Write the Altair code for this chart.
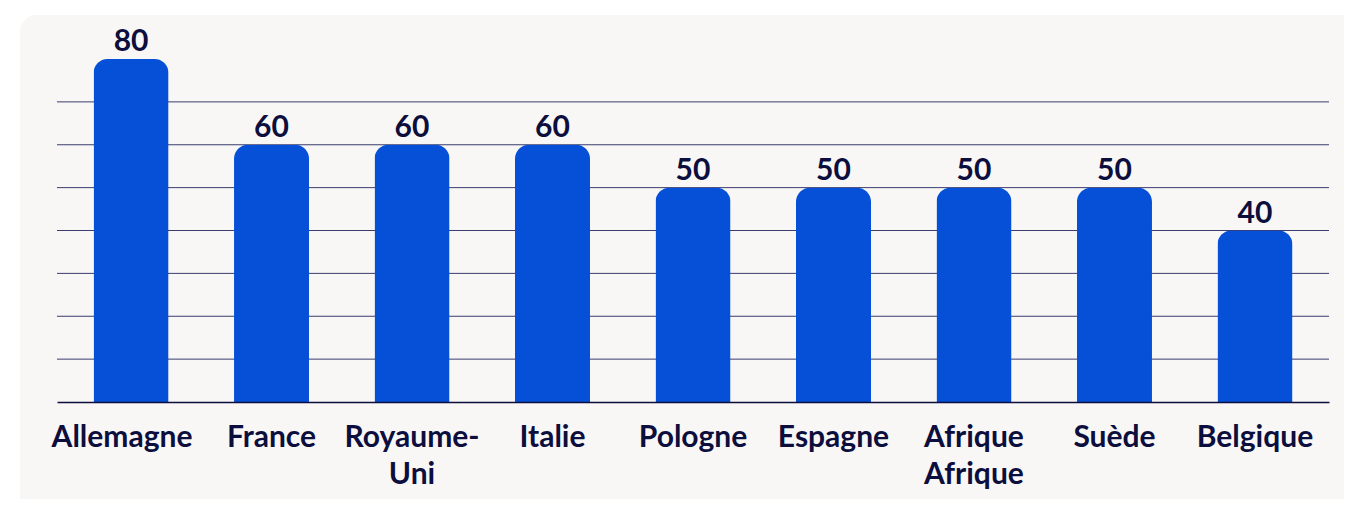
import altair as alt
import pandas as pd

countries = ["Allemagne", "France", "Royaume-Uni", "Italie", "Pologne",
             "Espagne", "Afrique Afrique", "Suède", "Belgique"]
values = [80, 60, 60, 60, 50, 50, 50, 50, 40]
grid_values = [10, 20, 30, 40, 50, 60, 70]

df = pd.DataFrame({"pays": countries, "valeur": values})
grid_df = pd.DataFrame({"valeur": grid_values})

FONT = "Lato"
NAVY = "#0c0e3d"
BLUE = "#0550d7"
W, H = 1272, 343

x_enc = alt.X(
    "pays:N", sort=countries, title=None,
    scale=alt.Scale(paddingInner=0.466, paddingOuter=0.26),
    axis=alt.Axis(
        labelAngle=0, labelFont=FONT, labelFontSize=30, labelFontWeight="bold",
        labelColor=NAVY, labelPadding=20, labelLineHeight=37,
        labelExpr="datum.label == 'Royaume-Uni' ? ['Royaume-', 'Uni'] : split(datum.label, ' ')",
        labelOffset={"condition": {"test": "datum.value === 'Allemagne'", "value": -9}, "value": 0},
        ticks=False, domainColor=NAVY, domainWidth=1.5, grid=False, zindex=1,
    ),
)
y_scale = alt.Scale(domain=[0, 80], nice=False)
y_enc = alt.Y("valeur:Q", title=None, scale=y_scale, axis=None)

bg = alt.Chart(pd.DataFrame({"a": [0]})).mark_rect(
    color="#f8f7f5", cornerRadius=16
).encode(
    x=alt.value(-37), x2=alt.value(W + 60),
    y=alt.value(-44), y2=alt.value(H + 140),
)

grid = alt.Chart(grid_df).mark_rule(color="#3a3d6e", strokeWidth=1).encode(
    y=alt.Y("valeur:Q", scale=y_scale, axis=None),
    x=alt.value(0), x2=alt.value(W),
)

base = alt.Chart(df)
bars = base.mark_bar(color=BLUE, cornerRadiusTopLeft=14, cornerRadiusTopRight=14).encode(
    x=x_enc, y=y_enc
)
labels = base.mark_text(
    font=FONT, fontSize=30, fontWeight="bold", color=NAVY, baseline="alphabetic", dy=-8
).encode(
    x=alt.X("pays:N", sort=countries),
    y=alt.Y("valeur:Q"),
    text=alt.Text("valeur:Q"),
)

chart = alt.layer(bg, grid, bars, labels).properties(
    width=W, height=H,
    autosize=alt.AutoSizeParams(type="none"),
    padding={"left": 49, "top": 51, "right": 15, "bottom": 97},
    background="white",
).configure_view(stroke=None)

chart.save("out.html", embed_options={"renderer": "svg", "actions": False})
